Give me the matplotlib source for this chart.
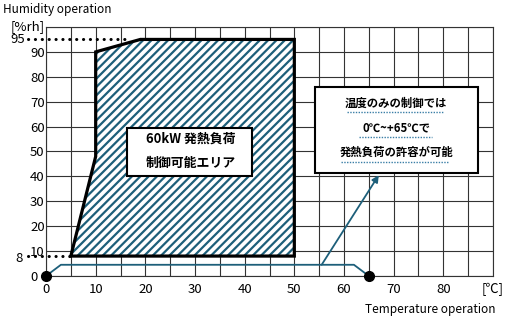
import matplotlib
matplotlib.use('Agg')

import matplotlib.pyplot as plt
from matplotlib.patches import Polygon, Rectangle

plt.rcParams['font.family'] = ['Noto Sans CJK JP', 'DejaVu Sans']
plt.rcParams['hatch.linewidth'] = 1.6

TEAL = '#1d5f7a'

# hatched operating area (temperature, humidity)
area_temp = [5, 10, 10, 19, 50, 50]
area_hum = [8, 48, 90, 95, 95, 8]

# temperature-only control range line
temp_only_x = [0, 3, 62, 65]
temp_only_y = [0, 4.5, 4.5, 0]

x_ticks = [0, 10, 20, 30, 40, 50, 60, 70, 80, 90]
x_labels = ['0', '10', '20', '30', '40', '50', '60', '70', '80', '[℃]']
y_ticks = [0, 10, 20, 30, 40, 50, 60, 70, 80, 90]

area_text = '60kW 発熱負荷'
area_text2 = '制御可能エリア'
note_lines = ['温度のみの制御では', '0℃~+65℃で', '発熱負荷の許容が可能']

fig = plt.figure(figsize=(5.13, 3.22), dpi=100)
ax = fig.add_axes([0.0897, 0.1429, 0.8713, 0.7733])
ax.set_xlim(0, 90)
ax.set_ylim(0, 100)

# grid
ax.set_xticks(range(0, 91, 5), minor=True)
ax.grid(which='minor', axis='x', color='#333333', linewidth=0.8)
ax.grid(which='major', axis='y', color='#333333', linewidth=0.8)
ax.grid(which='major', axis='x', color='#333333', linewidth=0.8)
ax.set_yticks(range(0, 101, 10))
ax.set_yticklabels([str(v) if v in y_ticks else '' for v in range(0, 101, 10)],
                   fontsize=9.5, ha='left')
ax.set_xticks(x_ticks)
ax.set_xticklabels(x_labels, fontsize=9.5)
ax.tick_params(axis='both', which='both', length=0)
ax.tick_params(axis='y', pad=11.5)
ax.tick_params(axis='x', pad=5)
for s in ax.spines.values():
    s.set_color('#333333')
    s.set_linewidth(0.8)

# hatched area
pts = list(zip(area_temp, area_hum))
ax.add_patch(Polygon(pts, closed=True, facecolor='white', edgecolor=TEAL,
                     hatch='////', linewidth=0, zorder=3))
ax.add_patch(Polygon(pts, closed=True, fill=False, edgecolor='black',
                     linewidth=2.3, joinstyle='miter', zorder=4))

# dotted reference lines
dot = dict(color='black', linewidth=2.2, linestyle=(0, (0.05, 2.2)),
           dash_capstyle='round', clip_on=False, zorder=5)
ax.plot([-3.6, 17], [95, 95], **dot)
ax.plot([-3.6, 5], [8, 8], **dot)
ax.text(-4.2, 95, '95', fontsize=9.5, ha='right', va='center')
ax.text(-4.6, 7, '8', fontsize=9.5, ha='right', va='center')
ax.text(-0.2, 100, '[%rh]', fontsize=9.5, ha='right', va='center')

# temperature-only line and arrow
ax.plot(temp_only_x, temp_only_y, color=TEAL, linewidth=1.3, zorder=5, clip_on=False)
ax.plot([temp_only_x[0], temp_only_x[-1]], [temp_only_y[0], temp_only_y[-1]],
        'o', color='black', markersize=7, zorder=6, clip_on=False)
ax.annotate('', xy=(67, 40.5), xytext=(55.5, 4.5),
            arrowprops=dict(arrowstyle='-|>', color=TEAL, lw=1.3,
                            mutation_scale=10, shrinkA=0, shrinkB=0), zorder=6)

# area label box
ax.add_patch(Rectangle((16.4, 40.2), 25, 19.3, facecolor='white',
                       edgecolor='black', linewidth=1.5, zorder=7))
ax.text(29.2, 55, area_text, fontsize=9.3, fontweight='bold', ha='center',
        va='center', zorder=8)
ax.text(29.2, 45.2, area_text2, fontsize=9.3, fontweight='bold', ha='center',
        va='center', zorder=8)

# note box
ax.add_patch(Rectangle((54.2, 41.4), 32.8, 34.6, facecolor='white',
                       edgecolor='black', linewidth=1.5, zorder=7))
note_y = [69.5, 59.4, 49.6]
under_x = [(60.6, 80.2), (63, 77.8), (59.4, 81.2)]
for txt, y, (x0, x1) in zip(note_lines, note_y, under_x):
    ax.text(70.5, y, txt, fontsize=8.2, fontweight='bold', ha='center',
            va='center', zorder=8)
    ax.plot([x0, x1], [y - 3.7, y - 3.7], color='#3a7ea6', linewidth=1.0,
            linestyle=(0, (1, 1)), zorder=8)

fig.text(0.006, 0.969, 'Humidity operation', fontsize=8.5, ha='left', va='center')
fig.text(0.965, 0.04, 'Temperature operation', fontsize=8.5, ha='right', va='center')

fig.savefig('out.png', dpi=100, facecolor='white')
